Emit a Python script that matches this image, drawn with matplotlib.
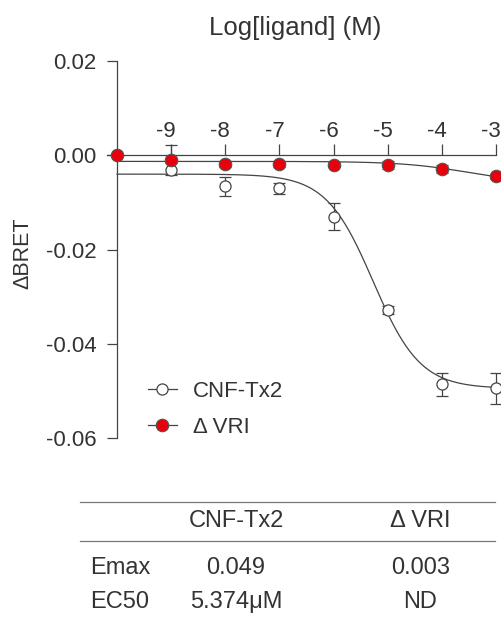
import matplotlib
matplotlib.use("Agg")
from matplotlib import pyplot as plt
from matplotlib.lines import Line2D
from matplotlib.transforms import ScaledTranslation
import numpy as np

plt.rcParams['font.family'] = ['Liberation Sans', 'DejaVu Sans']

# log concentration
logConc = [-10, -9, -8, -7, -6, -5, -4, -3]

# CNF-Tx2 (open circles)
cnfMean = [0.0, -0.0032, -0.0066, -0.0070, -0.0130, -0.0328, -0.0486, -0.0494]
cnfErrLow = [0.0, 0.0010, 0.0020, 0.0012, 0.0028, 0.0008, 0.0024, 0.0033]
cnfErrHigh = [0.0, 0.0053, 0.0020, 0.0012, 0.0028, 0.0008, 0.0024, 0.0033]

# delta VRI (red)
vriMean = [0.0, -0.0011, -0.0019, -0.0019, -0.0020, -0.0021, -0.0029, -0.0045]
vriErr = [0.0, 0.0006, 0.0005, 0.0005, 0.0005, 0.0008, 0.0008, 0.0006]

# fitted curve parameters (top, bottom, logEC50, hill)
cnfFit = (-0.0040, -0.0495, -5.27, 1.0)
vriFit = (-0.0013, -0.0060, -3.5, 0.7)

# table below the chart
tableHeader = ["CNF-Tx2", "Δ VRI"]
tableRows = ["Emax", "EC50"]
tableValues = [["0.049", "0.003"], ["5.374μM", "ND"]]

textColor = "#333333"
lineColor = "#444444"
red = "#e8000b"


def logistic(x, top, bottom, logec, hill):
    return bottom + (top - bottom) / (1 + 10 ** ((x - logec) * hill))


fig = plt.figure(figsize=(5.02, 6.22), dpi=100)
ax = fig.add_axes([0.2331, 0.2958, 0.7550, 0.6061])

xs = np.linspace(-10, -3, 300)
ax.plot(xs, logistic(xs, *cnfFit), color=lineColor, lw=0.9, clip_on=False)
ax.plot(xs, logistic(xs, *vriFit), color=lineColor, lw=0.9, clip_on=False)

eb1 = ax.errorbar(logConc, cnfMean, yerr=[cnfErrLow, cnfErrHigh], fmt='o', ms=8,
                  mfc='white', mec=lineColor, mew=0.9, ecolor=lineColor,
                  elinewidth=0.9, capsize=4, capthick=0.9, zorder=3)
eb2 = ax.errorbar(logConc, vriMean, yerr=vriErr, fmt='o', ms=9,
                  mfc=red, mec="#555555", mew=0.8, ecolor=lineColor,
                  elinewidth=0.9, capsize=4, capthick=0.9, zorder=4)
for eb in (eb1, eb2):
    for art in eb.lines[0:1] + eb.lines[1] + eb.lines[2]:
        art.set_clip_on(False)

ax.set_xlim(-10, -3)
ax.set_ylim(-0.06, 0.02)

ax.spines['right'].set_visible(False)
ax.spines['bottom'].set_visible(False)
ax.spines['top'].set_position(('data', 0))
ax.spines['top'].set_bounds(-10.18, -3)
for s in ('left', 'top'):
    ax.spines[s].set_color(lineColor)
    ax.spines[s].set_linewidth(0.9)

ax.xaxis.set_ticks_position('top')
ax.set_xticks([-9, -8, -7, -6, -5, -4, -3])
ax.set_xticklabels(["-9", "-8", "-7", "-6", "-5", "-4", "-3"])
ax.tick_params(axis='x', direction='out', length=8, width=0.9, color=lineColor,
               labelsize=16, labelcolor=textColor, pad=1.5)
shift = ScaledTranslation(-5 / 100, 0, fig.dpi_scale_trans)
for lab in ax.get_xticklabels():
    lab.set_transform(lab.get_transform() + shift)
ax.set_yticks([0.02, 0.0, -0.02, -0.04, -0.06])
ax.set_yticklabels(["0.02", "0.00", "-0.02", "-0.04", "-0.06"])
ax.tick_params(axis='y', direction='out', length=7, width=0.9, color=lineColor,
               labelsize=16, labelcolor=textColor, pad=8)

fig.text(0.588, 0.955, "Log[ligand] (M)", ha='center', va='center',
         fontsize=18.5, color=textColor)
fig.text(0.046, 0.593, "ΔBRET", ha='center', va='center', rotation=90,
         fontsize=15.5, color=textColor)

handles = [
    Line2D([0], [0], color=lineColor, lw=0.9, marker='o', ms=8, mfc='white',
           mec=lineColor, mew=0.9),
    Line2D([0], [0], color=lineColor, lw=0.9, marker='o', ms=9, mfc=red,
           mec="#555555", mew=0.8),
]
leg = fig.legend(handles, ["CNF-Tx2", "Δ VRI"], loc='center left',
                 bbox_to_anchor=(148 / 502, 0.342), frameon=False,
                 fontsize=16, handlelength=1.3, handletextpad=0.72,
                 labelspacing=0.67, borderpad=0, borderaxespad=0)
for t in leg.get_texts():
    t.set_color(textColor)

# table
for yl in (0.1934, 0.1302):
    fig.add_artist(Line2D([0.159, 0.986], [yl, yl], transform=fig.transFigure,
                          color="#777777", lw=0.9))
colX = [0.470, 0.837]
for cx, h in zip(colX, tableHeader):
    fig.text(cx, 0.1624, h, ha='center', va='center', fontsize=17, color=textColor)
rowY = [0.0868, 0.0326]
for ry, name, vals in zip(rowY, tableRows, tableValues):
    fig.text(0.179, ry, name, ha='left', va='center', fontsize=17, color=textColor)
    for cx, v in zip(colX, vals):
        fig.text(cx, ry, v, ha='center', va='center', fontsize=17, color=textColor)

fig.savefig("out.png", dpi=100)
